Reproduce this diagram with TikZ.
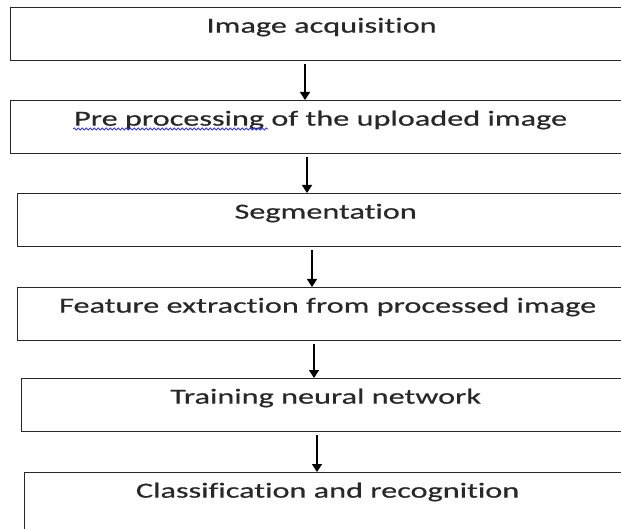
\documentclass[tikz,border=0pt]{standalone}
\usepackage{fontspec}
\setmainfont{Carlito}
\newfontfamily\boxfont[FakeStretch=1.5,FakeBold=0.5,Ligatures={NoCommon}]{Carlito}
\usetikzlibrary{arrows.meta,decorations.pathmorphing}
\definecolor{inkgray}{RGB}{40,40,40}
\begin{document}
\begin{tikzpicture}[x=1pt,y=-1pt,
  stepbox/.style={draw=inkgray, line width=1.3pt, inner sep=0pt, minimum height=53pt,
    text height=25pt, text depth=28pt, anchor=north west,
    font=\boxfont\fontsize{21.5}{25}\selectfont, text=inkgray},
  lastbox/.style={stepbox, minimum height=75pt, text depth=50pt},
  flow/.style={draw=black, line width=1.3pt, -{Triangle[width=10pt,length=8pt]}, shorten <=3pt},
  spell/.style={draw=blue!80, line width=0.8pt, decorate, decoration={snake, amplitude=1pt, segment length=4pt}}]
\useasboundingbox (0,0) rectangle (621,529);
\clip (0,0) rectangle (621,529);
\node[stepbox, minimum width=622pt] (b1) at (10,7) {Image acquisition};
\node[stepbox, minimum width=620pt] (b2) at (10,100) {Pre processing of the uploaded image};
\node[stepbox, minimum width=616pt] (b3) at (17,193) {Segmentation};
\node[stepbox, minimum width=620pt] (b4) at (17,287) {Feature extraction from processed image};
\node[stepbox, minimum width=608pt] (b5) at (21,378) {Training neural network};
\node[lastbox, minimum width=606pt] (b6) at (24,472) {Classification and recognition};
\coordinate (x1) at (305,0);
\coordinate (x2) at (307,0);
\coordinate (x3) at (312,0);
\coordinate (x4) at (314,0);
\coordinate (x5) at (317,0);
\draw[flow] (b1.south -| x1) -- (b2.north -| x1);
\draw[flow] (b2.south -| x2) -- (b3.north -| x2);
\draw[flow] (b3.south -| x3) -- (b4.north -| x3);
\draw[flow] (b4.south -| x4) -- (b5.north -| x4);
\draw[flow] (b5.south -| x5) -- (b6.north -| x5);
\coordinate (u1) at (73,129);
\coordinate (u2) at (268,129);
\draw[spell] (u1) -- (u2);
\end{tikzpicture}
\end{document}
